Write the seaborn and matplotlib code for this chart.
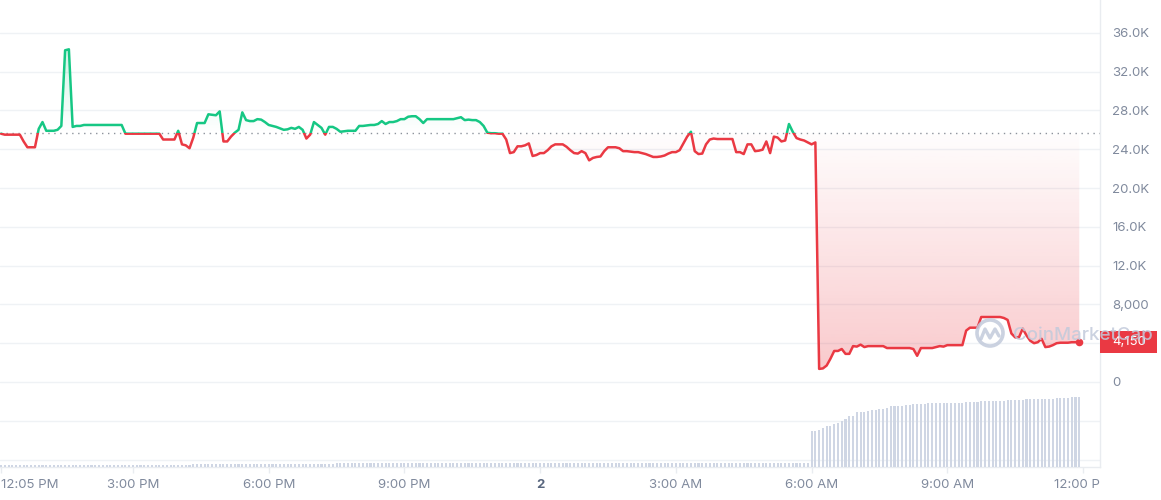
import numpy as np
import pandas as pd
import matplotlib
matplotlib.use("Agg")
import matplotlib.pyplot as plt
import matplotlib.dates as mdates
import matplotlib.colors as mcolors
from matplotlib.patches import Rectangle, Ellipse
from matplotlib.lines import Line2D
from matplotlib.transforms import Bbox, TransformedBbox, blended_transform_factory
import seaborn as sns

# ---------------- data ----------------
start_time = "2023-03-01 12:05"
step = "5min"

# price in thousands, one value per 5 minutes
price_k = [
    25.6, 25.5, 25.5, 25.5, 25.5, 25.5, 24.8, 24.2, 24.2, 24.2,
    26.1, 26.8, 25.9, 25.9, 25.9, 26.0, 26.4, 34.2, 34.3, 26.3,
    26.4, 26.4, 26.5, 26.5, 26.5, 26.5, 26.5, 26.5, 26.5, 26.5,
    26.5, 26.5, 26.5, 25.6, 25.6, 25.6, 25.6, 25.6, 25.6, 25.6,
    25.6, 25.6, 25.6, 25.0, 25.0, 25.0, 25.0, 25.9, 24.5, 24.4,
    24.1, 25.2, 26.7, 26.7, 26.7, 27.6, 27.55, 27.5, 27.9, 24.8,
    24.8, 25.3, 25.7, 26.0, 27.8, 27.0, 26.9, 26.9, 27.1, 27.05,
    26.8, 26.5, 26.4, 26.3, 26.15, 26.0, 26.05, 26.2, 26.1, 26.3,
    26.0, 25.1, 25.5, 26.8, 26.5, 26.2, 25.5, 26.3, 26.3, 26.1,
    25.8, 25.85, 25.9, 25.9, 25.9, 26.4, 26.4, 26.45, 26.5, 26.5,
    26.6, 26.9, 26.6, 26.8, 26.8, 26.9, 27.1, 27.1, 27.35, 27.4,
    27.4, 27.1, 26.7, 27.1, 27.1, 27.1, 27.1, 27.1, 27.1, 27.1,
    27.1, 27.2, 27.3, 27.0, 27.05, 27.0, 27.0, 26.8, 26.4, 25.7,
    25.65, 25.65, 25.6, 25.6, 25.0, 23.6, 23.7, 24.3, 24.3, 24.4,
    24.6, 23.3, 23.4, 23.6, 23.6, 23.9, 24.3, 24.5, 24.5, 24.5,
    24.25, 23.9, 23.6, 23.55, 23.8, 23.6, 22.85, 23.1, 23.2, 23.25,
    23.8, 24.2, 24.2, 24.2, 24.1, 23.8, 23.8, 23.75, 23.7, 23.7,
    23.6, 23.5, 23.35, 23.2, 23.2, 23.25, 23.35, 23.55, 23.7, 23.7,
    23.9, 24.6, 25.3, 25.8, 23.8, 23.5, 23.55, 24.5, 25.0, 25.1,
    25.05, 25.05, 25.05, 25.05, 25.05, 23.7, 23.7, 23.5, 24.5, 24.5,
    23.8, 23.85, 23.95, 24.8, 23.6, 25.3, 25.2, 24.8, 24.9, 26.6,
    25.8, 25.15, 25.0, 24.9, 24.7, 24.5, 24.7, 1.35, 1.4, 1.7,
    2.4, 3.2, 3.2, 3.4, 2.9, 2.9, 3.7, 3.65, 3.85, 3.6,
    3.7, 3.7, 3.7, 3.7, 3.7, 3.5, 3.5, 3.5, 3.5, 3.5,
    3.5, 3.5, 3.4, 2.7, 3.5, 3.5, 3.5, 3.5, 3.6, 3.7,
    3.65, 3.8, 3.8, 3.8, 3.8, 3.8, 5.3, 5.6, 5.6, 5.6,
    6.7, 6.7, 6.7, 6.7, 6.7, 6.7, 6.6, 6.4, 5.0, 4.6,
    4.6, 5.5, 4.8, 4.25, 4.0, 4.1, 4.45, 3.6, 3.65, 3.8,
    4.0, 4.05, 4.05, 4.05, 4.1, 4.1, 4.15,
]

# traded volume (arbitrary units), one bar per 5 minutes
volume = [
    2.5, 2.5, 2.5, 2.5, 2.5, 2.5, 2.5, 2.5, 2.5, 2.5,
    2.5, 2.5, 2.5, 2.5, 2.5, 2.5, 2.5, 2.5, 2.5, 2.5,
    2.5, 2.5, 2.5, 2.5, 2.5, 2.5, 2.5, 2.5, 2.5, 2.5,
    2.5, 2.5, 2.5, 2.5, 2.5, 2.5, 2.5, 2.5, 2.5, 2.5,
    2.5, 2.5, 2.5, 2.5, 2.5, 2.5, 2.5, 2.5, 2.5, 2.5,
    2.5, 3.0, 3.0, 3.0, 3.0, 3.0, 3.0, 3.0, 3.0, 3.0,
    3.0, 3.0, 3.0, 3.0, 3.0, 3.0, 3.0, 3.0, 3.0, 3.0,
    3.0, 3.0, 3.0, 3.0, 3.0, 3.0, 3.0, 3.0, 3.0, 3.0,
    3.0, 3.0, 3.0, 3.0, 3.0, 3.0, 3.0, 3.0, 3.0, 4.0,
    4.0, 4.0, 4.0, 4.0, 4.0, 4.0, 4.0, 4.0, 4.0, 4.0,
    4.0, 4.0, 4.0, 4.0, 4.0, 4.0, 4.0, 4.0, 4.0, 4.0,
    4.0, 4.0, 4.0, 4.0, 4.0, 4.0, 4.0, 4.0, 4.0, 4.0,
    4.0, 4.0, 4.0, 4.0, 4.0, 4.0, 4.0, 4.0, 4.0, 4.0,
    4.0, 4.0, 4.0, 4.0, 4.0, 4.0, 4.0, 4.0, 4.0, 4.0,
    4.0, 4.0, 4.0, 4.0, 4.0, 4.0, 4.0, 4.0, 4.0, 4.0,
    4.0, 4.0, 4.0, 4.0, 4.0, 4.0, 4.0, 4.0, 4.0, 4.0,
    4.0, 4.0, 4.0, 4.0, 4.0, 4.0, 4.0, 4.0, 4.0, 4.0,
    4.0, 4.0, 4.0, 4.0, 4.0, 4.0, 4.0, 4.0, 4.0, 4.0,
    4.0, 4.0, 4.0, 4.0, 4.0, 4.0, 4.0, 4.0, 4.0, 4.0,
    4.0, 4.0, 4.0, 4.0, 4.0, 4.0, 4.0, 4.0, 4.0, 4.0,
    4.0, 4.0, 4.0, 4.0, 4.0, 4.0, 4.0, 4.0, 4.0, 4.0,
    4.0, 4.0, 4.0, 4.0, 4.0, 36.0, 36.0, 37.0, 38.7, 40.7,
    41.0, 42.7, 44.0, 45.7, 48.0, 51.0, 51.0, 54.7, 54.7, 54.7,
    55.7, 56.7, 56.7, 57.7, 58.3, 58.7, 60.7, 60.7, 60.7, 61.0,
    61.7, 61.7, 62.7, 62.7, 62.7, 62.7, 63.7, 63.7, 63.7, 63.7,
    63.7, 63.7, 63.7, 63.7, 63.7, 63.7, 64.7, 64.7, 64.7, 64.7,
    65.7, 65.7, 65.7, 65.7, 65.7, 65.7, 65.7, 66.7, 66.7, 66.7,
    66.7, 66.7, 67.7, 67.7, 67.7, 67.7, 67.7, 67.7, 67.7, 67.7,
    68.7, 68.7, 68.7, 68.7, 69.7, 69.7, 69.7,
]

open_price_k = 25.67  # reference (dotted) line, thousands

# the 4,000 label is hidden behind the last-price tag in the reference
y_ticks = [-8000, -4000, 0, 4000, 8000, 12000, 16000, 20000, 24000, 28000, 32000, 36000]
y_tick_labels = ["", "", "0", "", "8,000", "12.0K", "16.0K", "20.0K",
                 "24.0K", "28.0K", "32.0K", "36.0K"]
x_tick_times = ["2023-03-01 12:05", "2023-03-01 15:00", "2023-03-01 18:00",
                "2023-03-01 21:00", "2023-03-02 00:00", "2023-03-02 03:00",
                "2023-03-02 06:00", "2023-03-02 09:00", "2023-03-02 12:00"]
x_tick_labels = ["12:05 PM", "3:00 PM", "6:00 PM", "9:00 PM", "2",
                 "3:00 AM", "6:00 AM", "9:00 AM", "12:00 PM"]

# ---------------- style ----------------
GREEN = "#16c784"
RED = "#ea3943"
GRID = "#eff2f5"
TICK = "#808a9d"
VOL = "#cfd6e4"

sns.set_theme(style="white")
plt.rcParams["font.family"] = ["Inter", "DejaVu Sans"]

times = pd.date_range(start_time, periods=len(price_k), freq=step)
t = mdates.date2num(times.to_pydatetime())
price = np.array(price_k) * 1000.0
base = open_price_k * 1000.0
df = pd.DataFrame({"t": t, "price": price, "volume": volume})

W, H = 1161, 500
fig = plt.figure(figsize=(W / 100, H / 100), dpi=100)
rect = [0, 33 / H, 1100 / W, 467 / H]
ax = fig.add_axes(rect)
axv = fig.add_axes(rect, sharex=ax)
axv.patch.set_alpha(0)
axv.axis("off")

five_min = 5 / 1440
xmin = t[0] - 0.27 * five_min
xmax = t[0] + 291.5 * five_min
ymin, ymax = -8764, 39384

# gradient fills between the price and the reference line
fill = ax.fill_between(df["t"], df["price"], base, facecolor="none", edgecolor="none")
clip_path = fill.get_paths()[0]


def gradient(color, lo, hi, a_lo, a_hi):
    n = 256
    rgba = np.zeros((n, 1, 4))
    rgba[..., :3] = mcolors.to_rgb(color)
    rgba[:, 0, 3] = np.linspace(a_lo, a_hi, n)
    im = ax.imshow(rgba, extent=[t[0], t[-1], lo, hi], origin="lower",
                   aspect="auto", zorder=1, interpolation="bilinear")
    im.set_clip_path(clip_path, transform=ax.transData)


gradient(GREEN, base, price.max(), 0.0, 0.2)
gradient(RED, price.min(), base, 0.27, 0.01)

# baseline
ax.axhline(base, color="#8d939c", lw=1.0, ls=(0, (1, 3.3)), zorder=2)

# price line: green above, red below the reference
sns.lineplot(data=df, x="t", y="price", ax=ax, color=GREEN, lw=1.8,
             estimator=None, sort=False, zorder=3)
sns.lineplot(data=df, x="t", y="price", ax=ax, color=RED, lw=1.8,
             estimator=None, sort=False, zorder=3)
lg, lr = ax.get_lines()[-2:]
big = 1e7
lg.set_clip_path(Rectangle((xmin - 1, base), 10, big, transform=ax.transData))
lr.set_clip_path(Rectangle((xmin - 1, base - big), 10, big, transform=ax.transData))
for ln in (lg, lr):
    ln.set_solid_joinstyle("round")
    ln.set_solid_capstyle("round")

ax.scatter([t[-1]], [price[-1]], s=30, color=RED, zorder=4, linewidths=0)

# volume bars
axv.bar(df["t"], df["volume"], width=0.55 * five_min, color=VOL, linewidth=0)
axv.set_ylim(0, 467)

ax.set_xlim(xmin, xmax)
ax.set_ylim(ymin, ymax)
ax.set_xlabel("")
ax.set_ylabel("")

# axes styling
for s in ("left", "top"):
    ax.spines[s].set_visible(False)
for s in ("right", "bottom"):
    ax.spines[s].set_color("#e9ecf0")
    ax.spines[s].set_linewidth(1)

ax.yaxis.tick_right()
ax.set_yticks(y_ticks, y_tick_labels)
ax.tick_params(axis="y", length=0, pad=8.6, labelsize=9.5, labelcolor=TICK,
               left=False, right=True)
xt = mdates.date2num(pd.to_datetime(x_tick_times).to_pydatetime())
ax.set_xticks(xt, x_tick_labels)
ax.tick_params(axis="x", length=4, width=1, color="#e9ecf0", pad=5,
               labelsize=9.5, labelcolor=TICK, bottom=True)
ax.grid(axis="y", color=GRID, lw=1)
ax.grid(axis="x", visible=False)
ax.set_axisbelow(True)

labels = ax.get_xticklabels()
labels[0].set_horizontalalignment("left")
labels[4].set_fontweight("bold")
labels[4].set_color("#58667e")
clipbox = TransformedBbox(Bbox([[0, 0], [1100 / W, 1]]), fig.transFigure)
labels[-1].set_clip_box(clipbox)
labels[-1].set_clip_on(True)

# last price tag
ppu = (ax.transData.transform((0, 1000))[1] - ax.transData.transform((0, 0))[1]) / 1000
tag_h = 22 / ppu
trans = blended_transform_factory(ax.transAxes, ax.transData)
ax.add_patch(Rectangle((1.0, price[-1] - tag_h / 2), 57 / 1100, tag_h,
                       transform=trans, facecolor=RED, edgecolor="none",
                       clip_on=False, zorder=5))
ax.text(1.0 + 12 / 1100, price[-1], f"{price[-1]:,.0f}", transform=trans,
        color="white", fontsize=9.5, va="center", ha="left", clip_on=False, zorder=6)

# watermark
wm = "#c2cadb"
fig.text(1013 / W, 1 - 335 / H, "CoinMarketCap", fontsize=13.5, color=wm,
         alpha=0.85, va="center", ha="left", fontweight="medium", zorder=10)
fig.add_artist(Ellipse((990 / W, 1 - 333 / H), 26 / W, 26 / H, fill=False,
                       edgecolor=wm, lw=2.6, alpha=0.85, transform=fig.transFigure,
                       zorder=10))
mx = np.array([981, 985, 990, 995, 999]) / W
my = 1 - np.array([339, 329, 338, 329, 336]) / H
fig.add_artist(Line2D(mx, my, color=wm, lw=2.4, alpha=0.85,
                      transform=fig.transFigure, zorder=10))

fig.savefig("out.png", dpi=100)
